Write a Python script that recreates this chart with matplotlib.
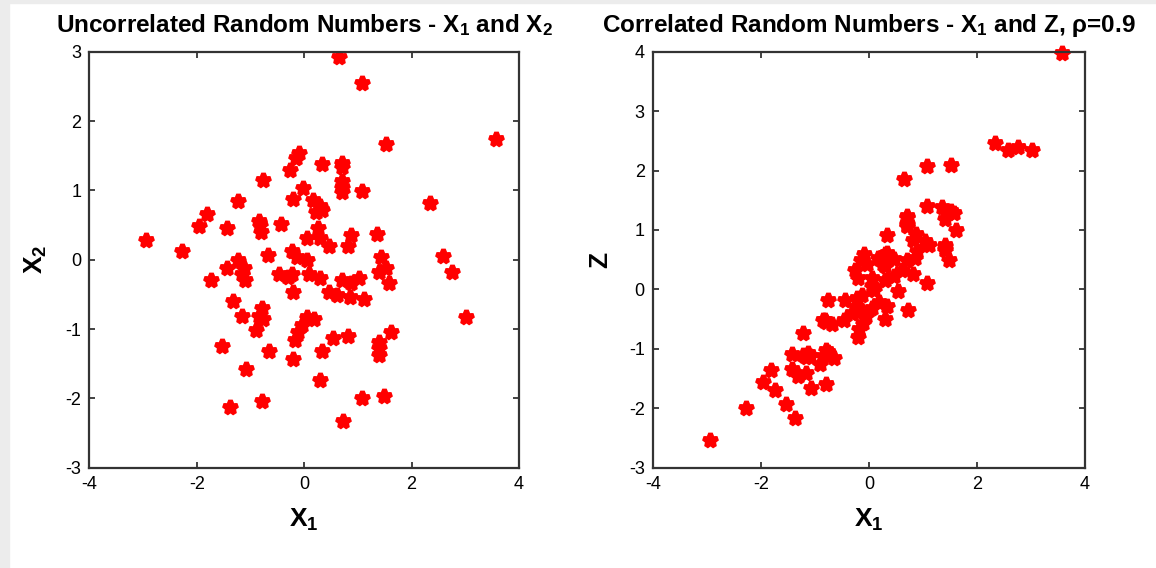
import matplotlib
matplotlib.use("Agg")
import matplotlib.pyplot as plt
from matplotlib.patches import Rectangle

plt.rcParams['font.family'] = ['Liberation Sans Narrow', 'Liberation Sans', 'DejaVu Sans']
plt.rcParams['mathtext.fontset'] = 'custom'
plt.rcParams['mathtext.rm'] = 'Liberation Sans'
plt.rcParams['mathtext.bf'] = 'Liberation Sans:bold'
plt.rcParams['mathtext.default'] = 'bf'
plt.rcParams['axes.unicode_minus'] = False

# values
x1 = [1.52, -0.09, -0.15, -0.26, 0.34, 0.70, 0.71, -0.76, 0.70, 0.70,
      0.70, 1.08, -0.03, -1.23, -0.20, 0.17, 0.29, 0.22, 0.33, -1.82,
      -1.96, -1.43, -0.85, -0.82, -0.80, -0.44, 0.26, 0.29, 0.06, 0.47,
      0.87, 0.82, 1.35, -0.68, -0.23, -0.13, 0.06, 1.43, 1.52, 1.40,
      1.58, -1.23, -1.13, -1.16, -1.10, -1.43, -1.74, -0.47, -0.31, -0.23,
      0.09, 0.29, 0.70, 0.88, 1.03, -0.20, 0.47, 0.61, 0.85, 1.11,
      -1.32, -1.16, -0.79, -0.85, -0.76, -0.90, 0.05, 0.18, -0.05, -0.11,
      -0.18, -1.53, -0.65, -0.20, 0.33, 0.53, 0.82, 1.61, 1.40, 1.40,
      1.40, -1.08, 0.29, -1.38, -0.79, 1.08, 1.49, 0.73, -2.95, -2.28,
      0.65, 1.08, 3.57, 2.34, 2.58, 2.75, 3.01]
x2 = [1.67, 1.54, 1.46, 1.29, 1.38, 1.40, 1.33, 1.15, 1.13, 1.05,
      0.98, 0.99, 1.04, 0.85, 0.87, 0.86, 0.77, 0.69, 0.72, 0.66,
      0.48, 0.45, 0.56, 0.50, 0.40, 0.52, 0.45, 0.31, 0.32, 0.20,
      0.35, 0.20, 0.37, 0.07, 0.13, 0.04, -0.01, 0.04, -0.12, -0.18,
      -0.33, 0.00, -0.12, -0.20, -0.29, -0.12, -0.29, -0.21, -0.25, -0.21,
      -0.21, -0.26, -0.29, -0.34, -0.26, -0.46, -0.46, -0.51, -0.54, -0.57,
      -0.60, -0.81, -0.70, -0.81, -0.86, -1.01, -0.82, -0.86, -0.94, -1.05,
      -1.16, -1.24, -1.32, -1.43, -1.32, -1.13, -1.10, -1.04, -1.19, -1.28,
      -1.38, -1.58, -1.74, -2.12, -2.04, -1.99, -1.96, -2.32, 0.28, 0.13,
      2.93, 2.55, 1.74, 0.82, 0.05, -0.18, -0.82]
z = [2.10, 0.59, 0.50, 0.33, 0.91, 1.24, 1.22, -0.18, 1.12, 1.09,
     1.06, 1.40, 0.43, -0.74, 0.20, 0.53, 0.60, 0.50, 0.61, -1.35,
     -1.55, -1.09, -0.52, -0.52, -0.55, -0.17, 0.43, 0.40, 0.19, 0.51,
     0.94, 0.83, 1.38, -0.58, -0.15, -0.10, 0.05, 1.30, 1.32, 1.18,
     1.28, -1.11, -1.07, -1.13, -1.12, -1.34, -1.69, -0.51, -0.39, -0.30,
     -0.01, 0.15, 0.50, 0.64, 0.81, -0.38, 0.22, 0.33, 0.53, 0.75,
     -1.45, -1.40, -1.02, -1.12, -1.06, -1.25, -0.31, -0.21, -0.45, -0.56,
     -0.67, -1.92, -1.16, -0.80, -0.28, -0.02, 0.26, 1.00, 0.74, 0.70,
     0.66, -1.66, -0.50, -2.17, -1.60, 0.10, 0.49, -0.35, -2.53, -2.00,
     1.86, 2.08, 3.97, 2.46, 2.34, 2.40, 2.35]

fig = plt.figure(figsize=(11.56, 5.68), dpi=100)
fig.patches.append(Rectangle((0, 0), 0.008, 1, transform=fig.transFigure,
                             color='#ececec', zorder=-1))
fig.patches.append(Rectangle((0, 0.995), 1, 0.005, transform=fig.transFigure,
                             color='#ececec', zorder=-1))

ax1 = fig.add_axes([0.0774, 0.1766, 0.3715, 0.7324])
ax2 = fig.add_axes([0.5649, 0.1766, 0.3737, 0.7324])


def style(ax):
    ax.tick_params(direction='in', length=4, width=1.2, top=True, right=True,
                   labelsize=13, pad=6, color='#222222')
    for s in ax.spines.values():
        s.set_linewidth(1.6)
        s.set_color('#333333')


ax1.plot(x1, x2, '*', color='red', markersize=10, markeredgewidth=3.4)
ax1.set_xlim(-4, 4)
ax1.set_ylim(-3, 3)
ax1.set_xticks([-4, -2, 0, 2, 4])
ax1.set_yticks([-3, -2, -1, 0, 1, 2, 3])
ax1.set_title('Uncorrelated Random Numbers - X$_1$ and X$_2$',
              fontsize=17.5, fontweight='bold', pad=14)
ax1.set_xlabel('X$_1$', fontsize=19, fontweight='bold', labelpad=10)
ax1.set_ylabel('X$_2$', fontsize=19, fontweight='bold', labelpad=12)
style(ax1)

ax2.plot(x1, z, '*', color='red', markersize=10, markeredgewidth=3.4,
         clip_on=False)
ax2.set_xlim(-4, 4)
ax2.set_ylim(-3, 4)
ax2.set_xticks([-4, -2, 0, 2, 4])
ax2.set_yticks([-3, -2, -1, 0, 1, 2, 3, 4])
ax2.set_title('Correlated Random Numbers - X$_1$ and Z, ρ=0.9',
              fontsize=17.5, fontweight='bold', pad=14)
ax2.set_xlabel('X$_1$', fontsize=19, fontweight='bold', labelpad=10)
ax2.set_ylabel('Z', fontsize=19, fontweight='bold', labelpad=12)
style(ax2)

fig.savefig('out.png', dpi=100)
